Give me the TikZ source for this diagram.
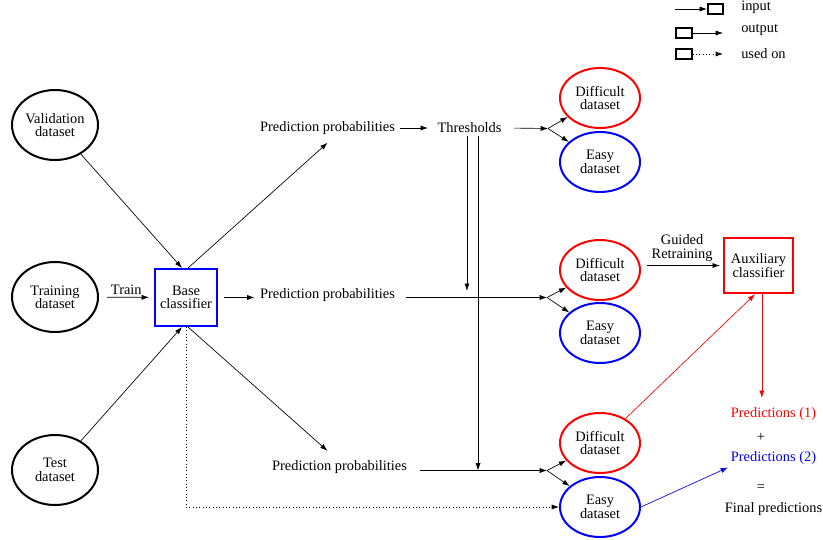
\documentclass[tikz,border=0pt]{standalone}
\usepackage{fontspec}
\setmainfont{Liberation Serif}
\newfontfamily\diagfont{Liberation Serif}
\usetikzlibrary{arrows.meta,shapes.geometric}
\begin{document}
\begin{tikzpicture}[x=0.75pt,y=-0.75pt,
  every node/.style={font=\diagfont\fontsize{10.8}{10}\selectfont},
  txt/.style={inner sep=4pt, align=center},
  dset/.style={ellipse, draw, line width=1.5pt, minimum width=64.5pt, minimum height=52.5pt, align=center, inner sep=0pt},
  splitset/.style={ellipse, line width=1.5pt, minimum width=60pt, minimum height=45pt, align=center, inner sep=0pt},
  hard/.style={splitset, draw=red},
  easy/.style={splitset, draw=blue},
  clf/.style={draw, line width=1.5pt, align=center, inner sep=0pt},
  arr/.style={-{Latex[length=5.5pt,width=3.8pt]}, line width=0.5pt},
  legbox/.style={draw, line width=1.3pt, minimum width=11.5pt, minimum height=7.5pt, inner sep=0pt},
  legtxt/.style={anchor=west, inner sep=0pt},
]
\useasboundingbox (0,0) rectangle (823,539);

% legend
\node[legbox] (lb1) at (715.5,9) {};
\coordinate (la1) at (675,9);
\draw[arr] (la1) -- (lb1.west);
\node[legtxt] (lt1) at (741,7) {input};
\node[legbox] (lb2) at (684,33) {};
\coordinate (la2) at (723,33);
\draw[arr] (lb2.east) -- (la2);
\node[legtxt] (lt2) at (741,30) {output};
\node[legbox] (lb3) at (684,54) {};
\coordinate (la3) at (723,54);
\draw[arr, dotted] (lb3.east) -- (la3);
\node[legtxt] (lt3) at (741,54) {used on};

% input datasets
\node[dset] (val) at (55,125) {Validation\\dataset};
\node[dset] (train) at (55,297) {Training\\dataset};
\node[dset] (test) at (55,470) {Test\\dataset};

% base classifier
\node[clf, draw=blue, minimum width=47pt, minimum height=42.75pt] (base) at (186,297.5) {Base\\classifier};

% texts
\node[txt] (pp1) at (327.5,128) {Prediction probabilities};
\node[txt] (thr) at (469.5,128) {Thresholds};
\node[txt] (pp2) at (327.5,295) {Prediction probabilities};
\node[txt] (pp3) at (339.5,467) {Prediction probabilities};

% split datasets
\node[hard] (d1) at (600,98) {Difficult\\dataset};
\node[easy] (e1) at (600,162) {Easy\\dataset};
\node[hard] (d2) at (600,270) {Difficult\\dataset};
\node[easy] (e2) at (600,333) {Easy\\dataset};
\node[hard] (d3) at (600,443) {Difficult\\dataset};
\node[easy] (e3) at (600,507) {Easy\\dataset};

% auxiliary classifier
\node[clf, draw=red, minimum width=51.5pt, minimum height=41.5pt] (aux) at (758.5,265.5) {Auxiliary\\classifier};

% predictions
\node[txt, text=red, inner sep=2pt] (p1) at (773.5,414) {Predictions (1)};
\node[txt, inner sep=2pt] (plus) at (761,437) {+};
\node[txt, text=blue, inner sep=2pt] (p2) at (773.5,458) {Predictions (2)};
\node[txt, inner sep=2pt] (eq) at (761,488) {=};
\node[txt, inner sep=2pt] (fin) at (773.5,509) {Final predictions};

% split points
\coordinate (s1) at (548,128.5);
\coordinate (s2) at (547,297.5);
\coordinate (s3) at (547,470.5);

% connectors into base
\draw[arr] (val) -- ([xshift=-3pt]base.north);
\draw[arr] (test) -- ([xshift=-3pt]base.south);
\draw[arr, shorten <=6pt, shorten >=3.5pt] (train) -- node[above, inner sep=2pt] (trl) {Train} (base);

% out of base
\draw[arr] ([xshift=1.5pt]base.north) -- ([yshift=-2pt]pp1.south);
\draw[arr, shorten <=4pt] (base.east) -- (base.east -| pp2.west);
\draw[arr] ([xshift=1.5pt]base.south) -- ([xshift=-9pt,yshift=3pt]pp3.north);
\draw[arr, dotted] (base.south) |- (e3.west);

% thresholds row
\draw[arr, shorten >=3pt] (pp1.east) -- (thr.west);
\draw[arr, shorten <=5pt] (thr.east) -- (s1);
\draw[arr] (s1) -- (d1);
\draw[arr] (s1) -- (e1);

\coordinate (t1) at ([xshift=-1.9pt,yshift=2pt]thr.south);
\coordinate (t2) at ([xshift=6.4pt,yshift=2pt]thr.south);
\draw[arr, shorten >=5pt] (t1) -- (t1 |- s2);
\draw[arr] (t2) -- (t2 |- s3);

% middle row
\draw[arr, shorten <=4.5pt] (pp2.east |- s2) -- (s2);
\draw[arr] (s2) -- (d2);
\draw[arr] (s2) -- (e2);

% bottom row
\draw[arr, shorten <=6pt] (pp3.east |- s3) -- (s3);
\draw[arr] (s3) -- (d3);
\draw[arr] (s3) -- (e3);

% guided retraining
\draw[arr, shorten <=4.5pt, shorten >=2.5pt] (d2.east |- aux) -- node[above, align=center, inner sep=3pt] (grl) {Guided\\Retraining} (aux.west);

% to predictions
\draw[arr, red, shorten >=5pt] ([xshift=2.5pt]aux.south) -- ([xshift=2.5pt]aux.south |- p1.north);
\draw[arr, red] (d3) -- ([xshift=-2.6pt]aux.south);
\draw[arr, blue] (e3.east) -- (p2.south west);
\end{tikzpicture}
\end{document}
